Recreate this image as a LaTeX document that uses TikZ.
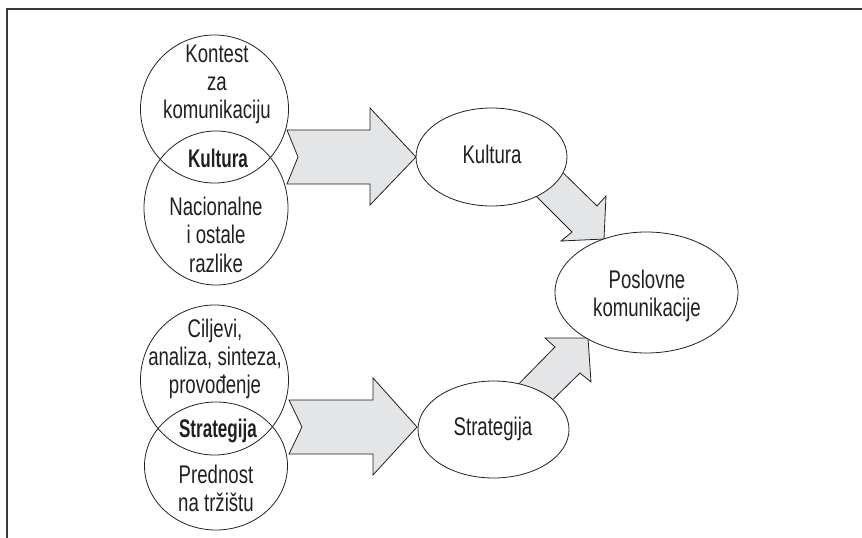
\documentclass[tikz,border=0pt]{standalone}
\usepackage{fontspec}
\setmainfont{Liberation Sans}[FakeStretch=0.73, BoldFeatures={FakeStretch=0.67}]
\usetikzlibrary{shapes.geometric}
\definecolor{ink}{HTML}{231F20}
\definecolor{arrowfill}{HTML}{E4E5E6}
\definecolor{framecol}{HTML}{3A3A3A}
\begin{document}
\begin{tikzpicture}[x=1pt,y=-1pt,
  every node/.style={font=\fontsize{25.5}{28.5}\selectfont, text=ink},
  ring/.style={draw=ink, line width=0.8pt, ellipse, inner sep=0pt},
  oval/.style={draw=ink, fill=white, line width=0.8pt, ellipse, inner sep=0pt},
  txt/.style={anchor=base, inner sep=0pt},
  boldtxt/.style={anchor=base, inner sep=0pt, font=\fontsize{25.5}{28.5}\selectfont\bfseries},
  blockarrow/.style={draw=ink, fill=arrowfill, line width=0.8pt, line join=miter}
]
\useasboundingbox (0,0) rectangle (862,538);
% frame
\draw[framecol, line width=1.5pt] (7,538) -- (7,9) -- (862,9);

% big block arrows (drawn first)
\draw[blockarrow] (287,130) -- (370,130) -- (370,108) -- (416,157) -- (370,205) -- (370,184) -- (287,184) -- (298,157) -- cycle;
\draw[blockarrow] (289,400) -- (373,400) -- (373,378) -- (417,427) -- (373,475) -- (373,454) -- (289,454) -- (302,427) -- cycle;
% diagonal arrows
\draw[blockarrow] (545,155) -- (597,206) -- (606,196) -- (604,239) -- (561,241) -- (572,232) -- (519,179) -- cycle;
\draw[blockarrow] (500,403) -- (555,347) -- (545,338) -- (588,338) -- (591,382) -- (580,373) -- (534,418) -- cycle;

% circles of the left groups
\node[ring, minimum width=148pt, minimum height=148pt] (c1) at (214.5,109) {};
\node[ring, minimum width=144pt, minimum height=154pt] (c2) at (216,208) {};
\node[ring, minimum width=148pt, minimum height=150pt] (c3) at (214.5,380) {};
\node[ring, minimum width=143pt, minimum height=128pt] (c4) at (216,466) {};

\node[txt] (t1a) at (217,62) {Kontest};
\node[txt] (t1b) at (217,90) {za};
\node[txt] (t1c) at (217,118) {komunikaciju};
\node[boldtxt] (k) at (218,167) {Kultura};
\node[txt] (t2a) at (216,215) {Nacionalne};
\node[txt] (t2b) at (216,243.5) {i ostale};
\node[txt] (t2c) at (216,272) {razlike};
\node[txt] (t3a) at (215,337.5) {Ciljevi,};
\node[txt] (t3b) at (215,365.5) {analiza, sinteza,};
\node[txt] (t3c) at (215,393.5) {provođenje};
\node[boldtxt] (s) at (218,437) {Strategija};
\node[txt] (t4a) at (216,483) {Prednost};
\node[txt] (t4b) at (216,511) {na tržištu};

% right ovals
\node[oval, minimum width=151pt, minimum height=98pt] (kult) at (491.5,157) {};
\node[oval, minimum width=151pt, minimum height=97pt] (strat) at (493.5,429.5) {};
\node[oval, minimum width=183pt, minimum height=121pt] (pos) at (646.5,292.5) {};
\node[txt] (kultt) at (492,163) {Kultura};
\node[txt] (stratt) at (493,435) {Strategija};
\node[txt] (posa) at (647,288) {Poslovne};
\node[txt] (posb) at (647,316.5) {komunikacije};
\end{tikzpicture}
\end{document}
